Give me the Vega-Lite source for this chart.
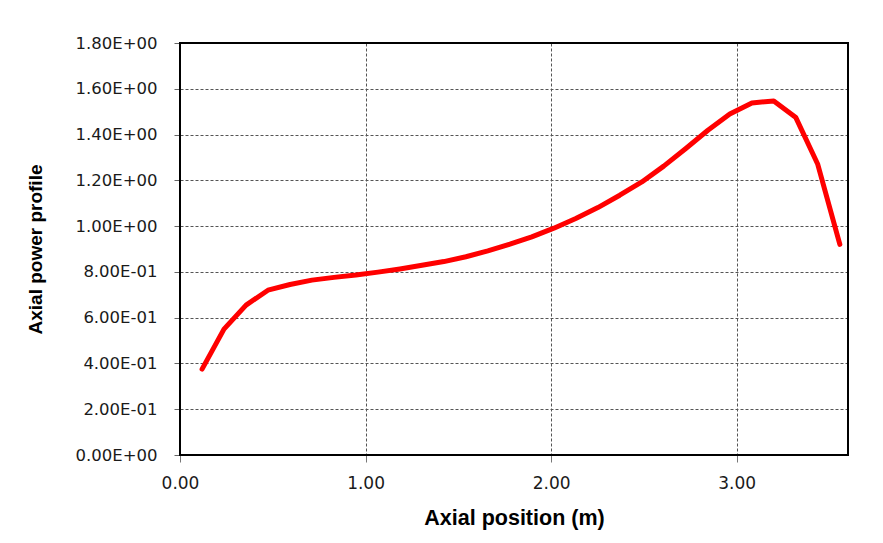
{
  "$schema": "https://vega.github.io/schema/vega-lite/v6.json",
  "width": 668,
  "height": 412,
  "autosize": {"type": "none"},
  "padding": {"left": 180, "top": 43, "right": 35, "bottom": 88},
  "background": "white",
  "data": {
    "values": [
      {"pos": 0.119, "power": 0.375},
      {"pos": 0.237, "power": 0.550},
      {"pos": 0.356, "power": 0.655},
      {"pos": 0.474, "power": 0.720},
      {"pos": 0.593, "power": 0.745},
      {"pos": 0.711, "power": 0.764},
      {"pos": 0.830, "power": 0.776},
      {"pos": 0.948, "power": 0.786},
      {"pos": 1.067, "power": 0.799},
      {"pos": 1.185, "power": 0.813},
      {"pos": 1.304, "power": 0.829},
      {"pos": 1.422, "power": 0.845},
      {"pos": 1.541, "power": 0.866},
      {"pos": 1.659, "power": 0.892},
      {"pos": 1.778, "power": 0.921},
      {"pos": 1.896, "power": 0.953},
      {"pos": 2.015, "power": 0.991},
      {"pos": 2.133, "power": 1.033},
      {"pos": 2.252, "power": 1.081},
      {"pos": 2.370, "power": 1.135},
      {"pos": 2.489, "power": 1.193},
      {"pos": 2.607, "power": 1.262},
      {"pos": 2.726, "power": 1.339},
      {"pos": 2.845, "power": 1.419},
      {"pos": 2.963, "power": 1.490},
      {"pos": 3.082, "power": 1.538},
      {"pos": 3.200, "power": 1.547},
      {"pos": 3.319, "power": 1.474},
      {"pos": 3.437, "power": 1.270},
      {"pos": 3.556, "power": 0.920}
    ]
  },
  "layer": [
    {
      "mark": {"type": "line", "color": "#ff0000", "strokeWidth": 5, "strokeCap": "round", "strokeJoin": "round"},
      "encoding": {
        "x": {
          "field": "pos", "type": "quantitative",
          "scale": {"domain": [0, 3.6], "nice": false, "zero": false},
          "axis": {
            "title": "Axial position (m)",
            "values": [0, 1, 2, 3],
            "format": ".2f",
            "domain": false,
            "labelFlush": false,
            "grid": true,
            "gridColor": "#555555",
            "gridDash": [3, 2],
            "gridWidth": 1,
            "tickColor": "#777777",
            "tickSize": 7,
            "labelPadding": 13,
            "labelFont": "DejaVu Sans",
            "labelFontSize": 17,
            "labelColor": "#1a1a1a",
            "titleFont": "Liberation Sans",
            "titleFontWeight": "bold",
            "titleFontSize": 21.5,
            "titleColor": "#000000",
            "titlePadding": 16
          }
        },
        "y": {
          "field": "power", "type": "quantitative",
          "scale": {"domain": [0, 1.8], "nice": false, "zero": true},
          "axis": {
            "title": "Axial power profile",
            "values": [0, 0.2, 0.4, 0.6, 0.8, 1.0, 1.2, 1.4, 1.6, 1.8],
            "labelExpr": "datum.value < 0.001 ? '0.00E+00' : (datum.value >= 0.999 ? format(datum.value, '.2f') + 'E+00' : format(datum.value * 10, '.2f') + 'E-01')",
            "domain": false,
            "labelFlush": false,
            "grid": true,
            "gridColor": "#555555",
            "gridDash": [3, 2],
            "gridWidth": 1,
            "tickColor": "#666666",
            "tickSize": 6,
            "labelPadding": 17,
            "labelFont": "DejaVu Sans",
            "labelFontSize": 16.5,
            "labelColor": "#1a1a1a",
            "titleFont": "Liberation Sans",
            "titleFontWeight": "bold",
            "titleFontSize": 19,
            "titleColor": "#000000",
            "titlePadding": 30
          }
        }
      }
    },
    {
      "mark": {"type": "rect", "fill": null, "fillOpacity": 0, "stroke": "#000000", "strokeWidth": 2},
      "encoding": {
        "x": {"datum": 0, "type": "quantitative"},
        "x2": {"datum": 3.6},
        "y": {"datum": 0, "type": "quantitative"},
        "y2": {"datum": 1.8}
      }
    }
  ],
  "config": {
    "view": {"stroke": null}
  }
}
